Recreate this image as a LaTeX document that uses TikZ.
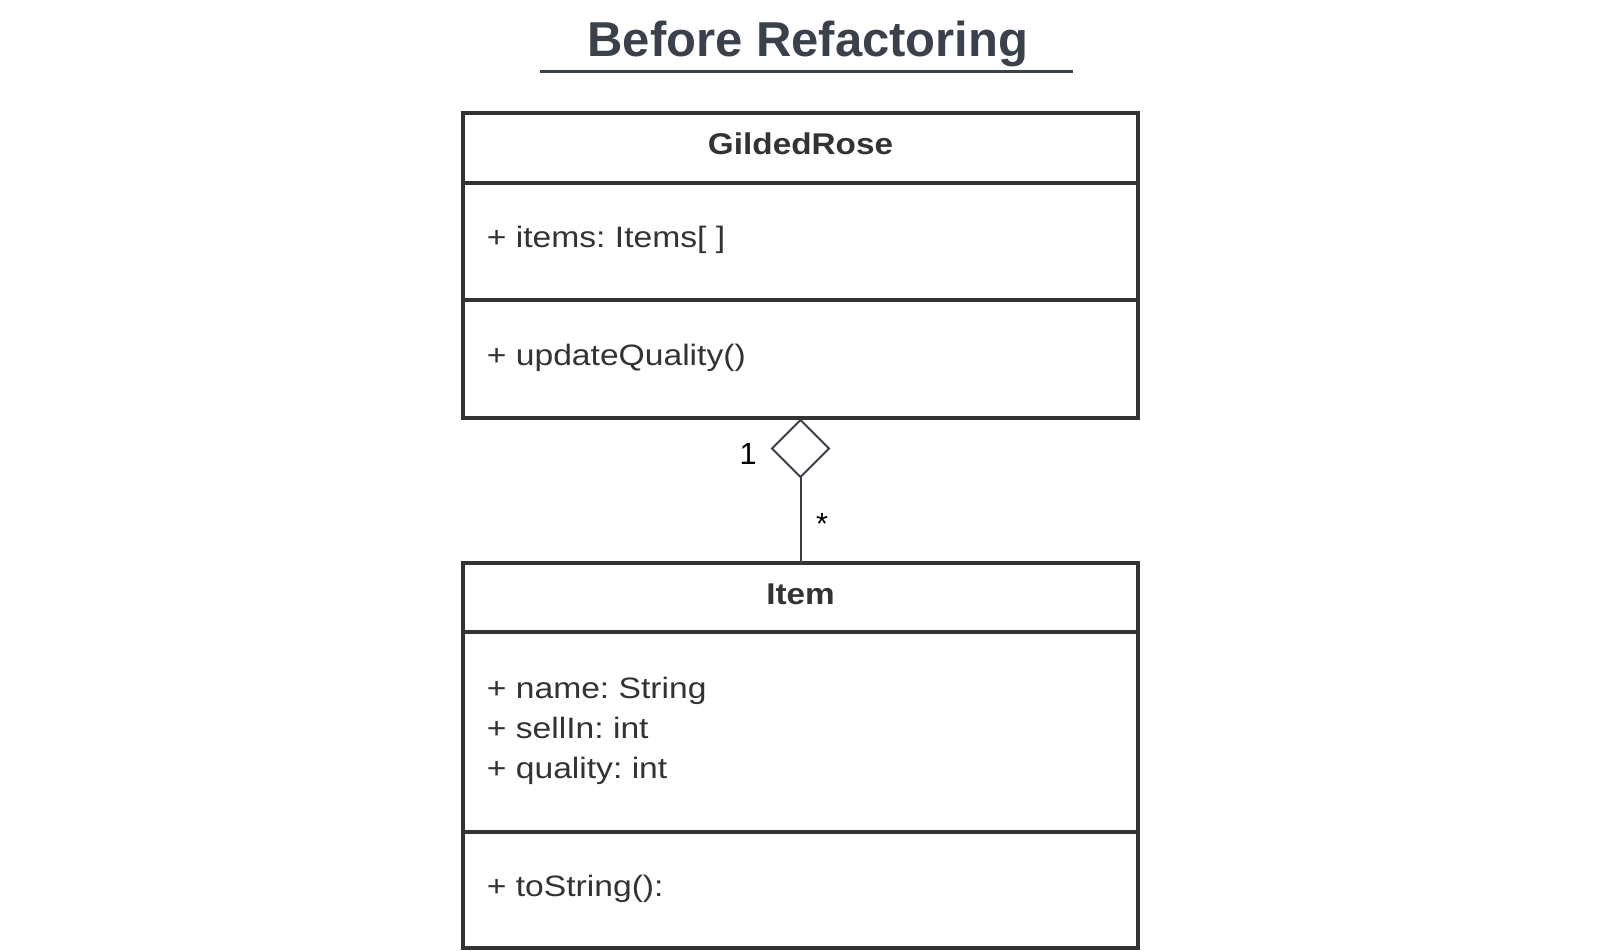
\documentclass[tikz,border=0pt]{standalone}
\usepackage{fontspec}
\setmainfont{Liberation Sans}
\newfontfamily\bodyfont[FakeStretch=1.14]{Liberation Sans}
\newfontfamily\headfont[FakeStretch=1.11]{Liberation Sans}
\usetikzlibrary{shapes.geometric}
\definecolor{boxgray}{RGB}{51,51,51}
\definecolor{titlegray}{RGB}{58,65,75}
\definecolor{linegray}{RGB}{58,63,74}
\tikzset{
  umlbox/.style={draw=boxgray, line width=2pt, fill=white, inner sep=0pt, outer sep=0pt, rectangle},
  umlline/.style={draw=boxgray, line width=2pt},
  member/.style={anchor=base west, inner sep=0pt, text=boxgray, font=\frenchspacing\bodyfont\fontsize{14.75}{20}\selectfont},
  classname/.style={anchor=base, inner sep=0pt, text=boxgray, font=\headfont\bfseries\fontsize{15}{18}\selectfont},
  agg/.style={diamond, draw=linegray, line width=1pt, fill=white, aspect=1, minimum width=28.5pt, minimum height=28.5pt, inner sep=0pt, outer sep=0pt},
  assoc/.style={draw=linegray, line width=1pt},
  mult/.style={inner sep=0pt, text=black, font=\fontsize{15.3}{18}\selectfont},
  titletext/.style={anchor=base, inner sep=0pt, text=titlegray, font=\bfseries\fontsize{24.5}{29}\selectfont},
  titleline/.style={draw=titlegray, line width=1.75pt}
}
\begin{document}
\frenchspacing
\begin{tikzpicture}[x=0.5pt, y=-0.5pt]
\useasboundingbox[fill=white] (0,0) rectangle (1599,951);
% title
\node[titletext] (title) at (808,56.7) {Before Refactoring};
\draw[titleline] (540,71.5) -- (1073,71.5);
% GildedRose class
\node[umlbox, minimum width=337.5pt, minimum height=152.5pt] (gr) at (800.5,265.5) {};
\draw[umlline] (463,183) -- (1138,183);
\draw[umlline] (463,300) -- (1138,300);
\node[classname] (grname) at (800.5,154.3) {GildedRose};
\node[member] (gritems) at (486.5,248) {+ items: Items[ ]};
\node[member] (grupdate) at (486.5,366) {+ updateQuality()};
% Item class
\node[umlbox, minimum width=337.5pt, minimum height=192.5pt] (it) at (800.5,755.5) {};
\draw[umlline] (463,632) -- (1138,632);
\draw[umlline] (463,832) -- (1138,832);
\node[classname] (itname) at (800.5,604) {Item};
\node[member] (itname1) at (486.5,698) {+ name: String};
\node[member] (itsell) at (486.5,738) {+ sellIn: int};
\node[member] (itqual) at (486.5,778) {+ quality: int};
\node[member] (itstr) at (486.5,896.7) {+ toString():};
% aggregation
\node[agg, anchor=north] (dia) at ([yshift=-1pt]gr.south) {};
\draw[assoc] (dia.south) -- (it.north);
\node[mult] (one) at (748,454) {1};
\node[mult] (many) at (822,524) {*};
\end{tikzpicture}
\end{document}
